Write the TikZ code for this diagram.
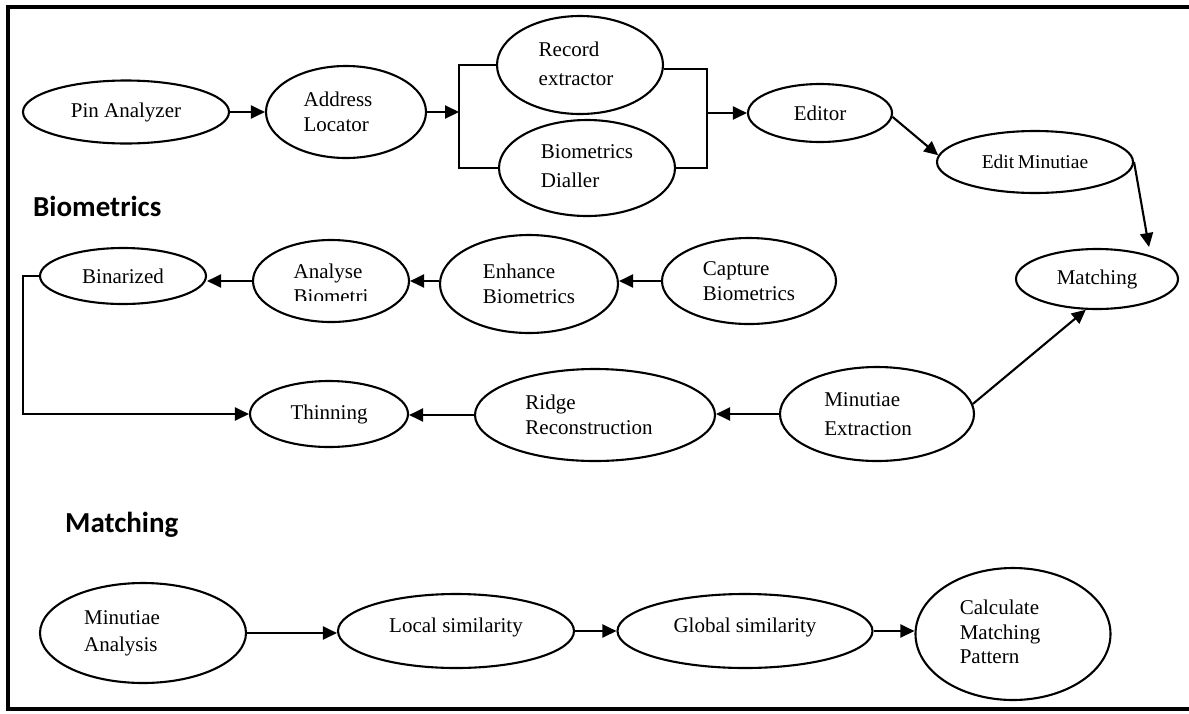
\documentclass[tikz,border=0pt]{standalone}
\usepackage{fontspec}
\setmainfont{Liberation Serif}
\newfontfamily\headfont{Carlito}
\usetikzlibrary{shapes.geometric,arrows.meta}
\begin{document}
\begin{tikzpicture}[x=1pt,y=-1pt,
  ell/.style 2 args={draw, ellipse, line width=2.1pt, inner sep=0pt,
    minimum width=#1, minimum height=#2},
  txt/.style={align=left, inner sep=0pt, font=\fontsize{21}{25}\selectfont},
  txtw/.style={align=left, inner sep=0pt, font=\fontsize{21}{28.5}\selectfont},
  head/.style={anchor=base west, inner sep=0pt,
    font=\headfont\bfseries\fontsize{29}{34}\selectfont},
  ln/.style={line width=2.1pt},
  arr/.style={line width=2.1pt, -{Triangle[length=14pt,width=13pt]}}]

\useasboundingbox (0,0) rectangle (1189,713);

% open frame (no right-hand side)
\draw[line width=3.2pt] (1189,7) -- (8,7) -- (8,709) -- (1189,709);

% section headings
\node[head] (hbio) at (33,216) {Biometrics};
\node[head] (hmat) at (65,532) {Matching};

% ---- top row ----
\node[ell={206}{63}] (pin) at (126,112) {};
\node[txt] (pinT) at (pin) {Pin Analyzer};
\node[ell={160}{92}] (addr) at (346,112) {};
\node[txt, xshift=-8] (addrT) at (addr) {Address\\Locator};
\node[ell={166}{98}] (rec) at (580,65) {};
\node[txtw, xshift=-4, yshift=1] (recT) at (rec) {Record\\extractor};
\node[ell={176}{96}] (dial) at (587,168) {};
\node[txtw, yshift=2] (dialT) at (dial) {Biometrics\\Dialler};
\node[ell={144}{58}] (editor) at (820,113) {};
\node[txt] (editorT) at (editor) {Editor};
\node[ell={196}{62}] (editm) at (1035,162) {};
\node[txt, font=\fontsize{19.5}{22}\selectfont] (editmT) at (editm) {Edit\hspace{3.5pt}Minutiae};
\node[ell={162}{60}] (match) at (1097,279) {};
\node[txt] (matchT) at (match) {Matching};

\coordinate (jL) at (459,112);
\coordinate (jR) at (707,113);
\coordinate (mtop) at (1149,247);

\draw[arr] (pin.east) -- (addr.west);
\draw[arr] (addr.east) -- (jL);
\draw[ln] (rec.west) -| (jL) |- (dial.west);
\draw[ln] (rec.-3) -| (jR) |- (dial.east);
\draw[arr] (jR) -- (editor.west);
\draw[arr] (editor.-3) -- (editm.176);
\draw[arr] (editm.east) -- (mtop);

% ---- middle rows ----
\node[ell={174}{86}] (capture) at (749,281) {};
\node[txt] (captureT) at (capture) {Capture\\Biometrics};
\node[ell={178}{98}] (enhance) at (529,284) {};
\node[txt] (enhanceT) at (enhance) {Enhance\\Biometrics};
\node[ell={156}{82}] (ana) at (331,281) {};
\begin{scope}
  \clip (250,240) rectangle (412,300);
  \node[txt, yshift=-3] (anaT) at (ana) {Analyse\\Biometri};
\end{scope}
\node[ell={166}{56}] (binar) at (123,276) {};
\node[txt] (binarT) at (binar) {Binarized};

\node[ell={158}{66}] (thin) at (329,414) {};
\node[txt] (thinT) at (thin) {Thinning};
\node[ell={240}{92}] (ridge) at (595,415) {};
\node[txt, xshift=-6] (ridgeT) at (ridge) {Ridge\\Reconstruction};
\node[ell={194}{94}] (minex) at (877,414) {};
\node[txtw, xshift=-9] (minexT) at (minex) {Minutiae\\Extraction};

\coordinate (bL) at (23,414);

\draw[arr] (capture.west) -- (capture.west -| enhance.east);
\draw[arr] (enhance.west |- ana.east) -- (ana.east);
\draw[arr] (ana.west) -- (ana.west -| binar.east);
\draw[arr] (binar.west) -| (bL) -- (thin.west);
\draw[arr] (ridge.west) -- (ridge.west -| thin.east);
\draw[arr] (minex.west) -- (minex.west -| ridge.east);
\draw[arr] (minex.6) -- (match.250);

% ---- matching row ----
\node[ell={206}{100}] (minan) at (143,633) {};
\node[txt, font=\fontsize{21}{27}\selectfont, xshift=-21] (minanT) at (minan) {Minutiae\\Analysis};
\node[ell={236}{74}] (local) at (456,631) {};
\node[txt, yshift=4] (localT) at (local) {Local similarity};
\node[ell={255}{74}] (global) at (745,631) {};
\node[txt, yshift=4] (globalT) at (global) {Global similarity};
\node[ell={195}{132}] (calc) at (1013,634) {};
\node[txt, font=\fontsize{21}{24.5}\selectfont, xshift=-13, yshift=2] (calcT) at (calc) {Calculate\\Matching\\Pattern};

\draw[arr] (minan.east) -- (minan.east -| local.west);
\draw[arr] (local.east) -- (local.east -| global.west);
\draw[arr] (global.east) -- (global.east -| calc.west);

\end{tikzpicture}
\end{document}
